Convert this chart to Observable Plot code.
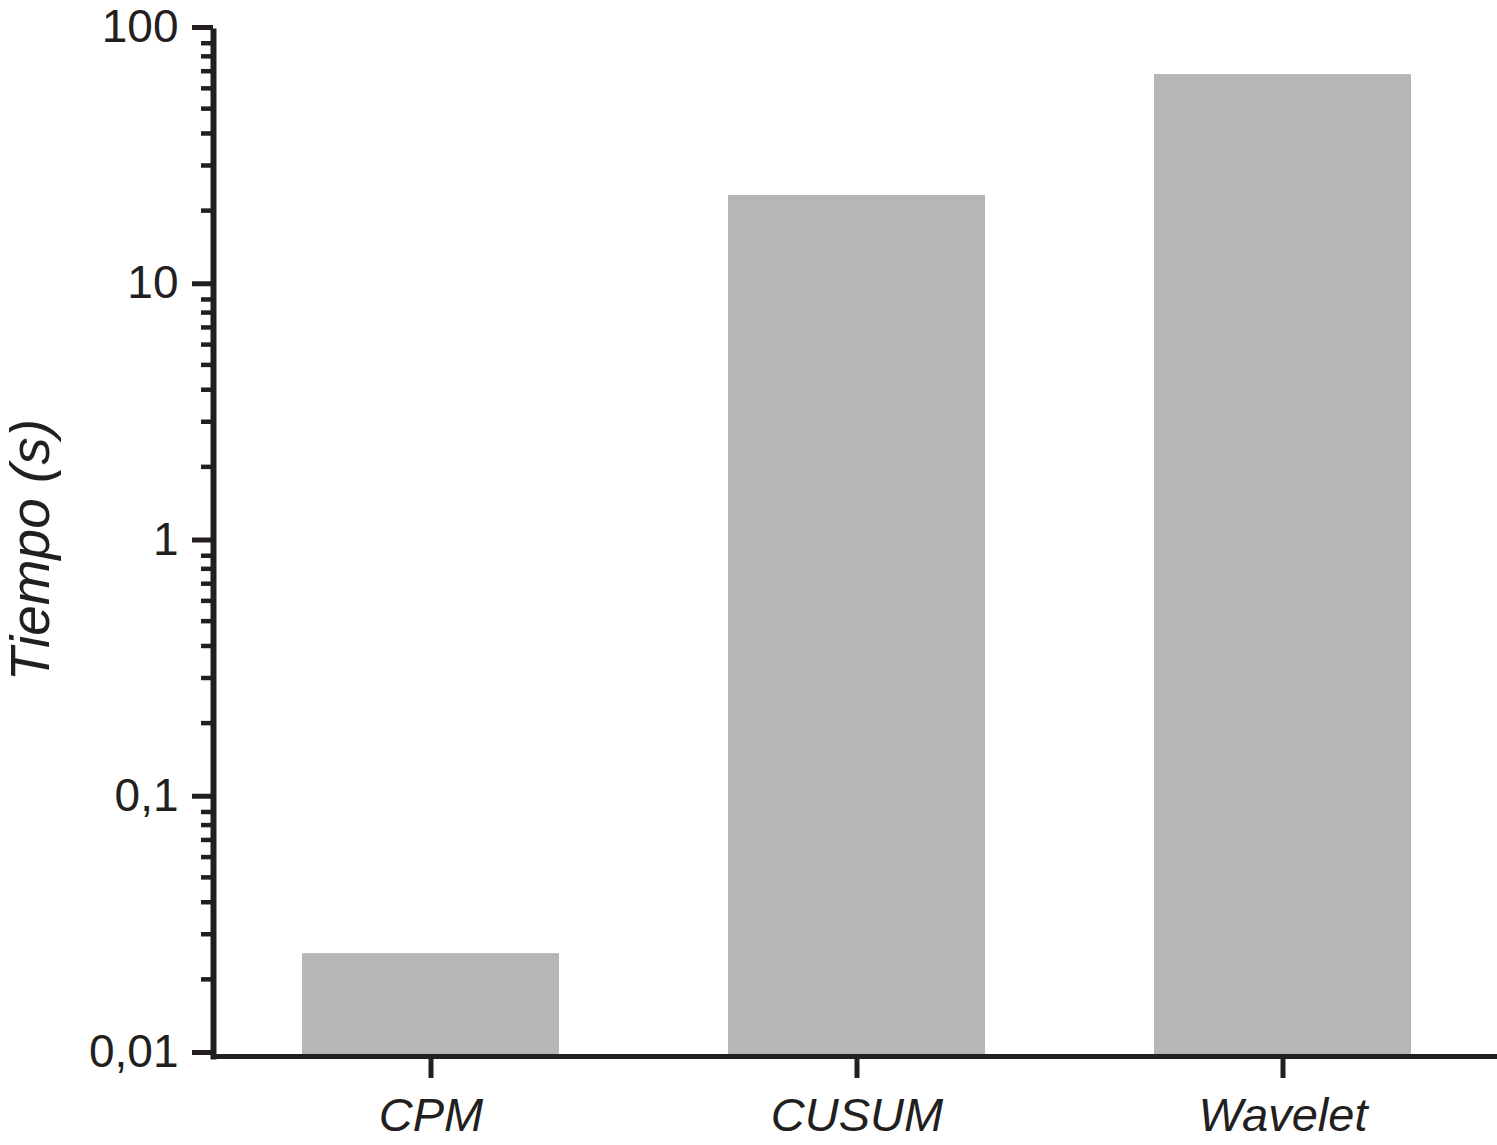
<!DOCTYPE html>
<html>
<head>
<meta charset="utf-8">
<script src="https://cdn.jsdelivr.net/npm/d3@7"></script>
<script src="https://cdn.jsdelivr.net/npm/@observablehq/plot@0.6"></script>
<style>
  html, body { margin: 0; padding: 0; background: #fff; }
</style>
</head>
<body>
<div id="chart"></div>
<script>
const categories = ["CPM", "CUSUM", "Wavelet"];
const values = [0.0252, 22.9, 67.9];
const majorTicks = [0.01, 0.1, 1, 10, 100];
const majorLabels = ["0,01", "0,1", "1", "10", "100"];
const minorTicks = [
  0.02, 0.03, 0.04, 0.05, 0.06, 0.07, 0.08, 0.09,
  0.2, 0.3, 0.4, 0.5, 0.6, 0.7, 0.8, 0.9,
  2, 3, 4, 5, 6, 7, 8, 9,
  20, 30, 40, 50, 60, 70, 80, 90
];
const yTitle = "Tiempo (s)";

const data = categories.map((c, i) => ({cat: c, value: values[i]}));
const ink = "#231f20";

const chart = Plot.plot({
  width: 1497,
  height: 1145,
  marginLeft: 213,
  marginRight: 0,
  marginTop: 31,
  marginBottom: 89,
  style: {fontFamily: "'Liberation Sans', Arial, Helvetica, sans-serif", color: ink, background: "#fff"},
  x: {domain: categories, range: [212, 1500], paddingInner: 0.397, paddingOuter: 0.208, label: null},
  y: {type: "log", domain: [0.01, 100], label: null},
  marks: [
    Plot.barY(data, {x: "cat", y1: () => 0.01, y2: "value", fill: "#b5b6b8"}),
    Plot.axisY(minorTicks, {tickSize: 12, strokeWidth: 4.5, stroke: ink, text: null, label: null}),
    Plot.axisY(majorTicks, {
      tickSize: 21, strokeWidth: 5, stroke: ink, tickPadding: 14, fontSize: 46, dy: -4,
      fill: ink, label: null,
      tickFormat: d => majorLabels[majorTicks.indexOf(d)]
    }),
    Plot.axisX(categories, {
      tickSize: 22, strokeWidth: 5, stroke: ink, tickPadding: 19, fontSize: 47,
      fontStyle: "italic", fill: ink, label: null
    }),
    Plot.frame({anchor: "left", stroke: ink, strokeWidth: 6}),
    Plot.frame({anchor: "bottom", stroke: ink, strokeWidth: 5}),
    Plot.text([yTitle], {
      text: d => d, frameAnchor: "left", rotate: -90, textAnchor: "middle", lineAnchor: "middle",
      dx: -182, dy: 6, fontSize: 55, fontStyle: "italic", fill: ink
    })
  ]
});
document.getElementById("chart").appendChild(chart);
</script>
</body>
</html>
